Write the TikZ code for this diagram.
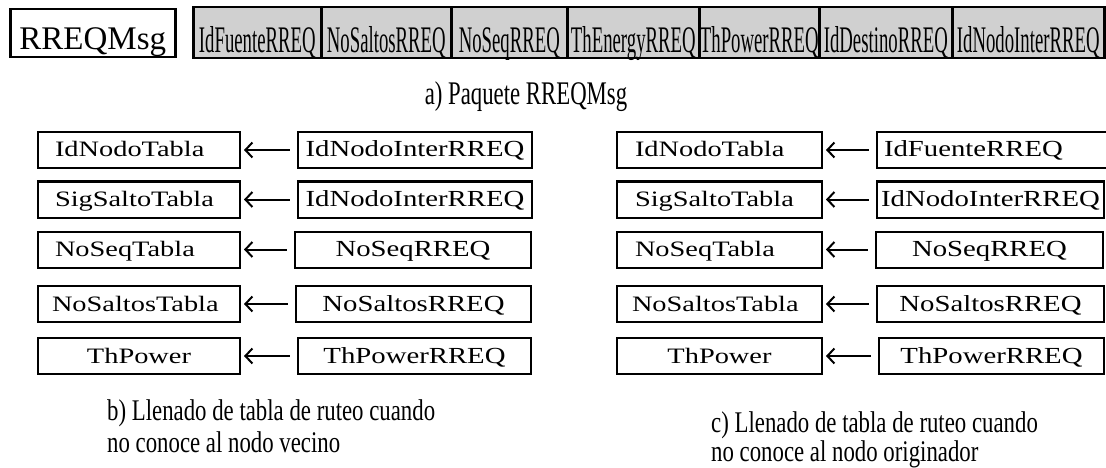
\documentclass[tikz,border=0pt]{standalone}
\usepackage{fontspec}
\setmainfont{Liberation Serif}
\newfontfamily\fieldserif[FakeStretch=0.5]{Liberation Serif}
\newfontfamily\headserif[FakeStretch=0.69]{Liberation Serif}
\newfontfamily\captionserif[FakeStretch=0.76]{Liberation Serif}
\newfontfamily\tablaserif[FakeStretch=1.29]{Liberation Serif}
\newfontfamily\rreqserif[FakeStretch=1.25]{Liberation Serif}
\usetikzlibrary{arrows.meta}
\definecolor{fieldgray}{RGB}{208,208,208}

\tikzset{
  msgbox/.style={draw, line width=2.6pt, inner sep=0pt, anchor=west},
  fieldbox/.style={msgbox, fill=fieldgray, minimum height=51pt,
    text height=41pt, text depth=0pt,
    font=\fieldserif\fontsize{37.5}{40}\selectfont},
  tbox/.style={draw, line width=2pt, inner ysep=0pt, minimum height=36pt,
    text height=18pt, text depth=4pt, anchor=west},
  tabla/.style={tbox, font=\tablaserif\fontsize{22}{25}\selectfont},
  rreq/.style={tbox, inner xsep=0pt, font=\rreqserif\fontsize{23}{26}\selectfont},
  caption/.style={anchor=base west, inner sep=0pt,
    font=\captionserif\fontsize{30}{34}\selectfont},
  copyarrow/.style={<-, line width=2pt, >={Straight Barb[length=7pt,width=15pt]},
    shorten <=3pt, shorten >=7pt},
}

\begin{document}
\begin{tikzpicture}[x=1pt, y=-1pt]
  \useasboundingbox[fill=white] (0,0) rectangle (1106,468);
  \clip (0,0) rectangle (1106,468);

  % message name and its fields
  \node[msgbox, minimum width=165pt, minimum height=48pt,
        text height=34pt, text depth=0pt, font=\fontsize{33}{36}\selectfont]
    (msg) at (9,33) {RREQMsg};
  \node[fieldbox, minimum width=128pt] (f1) at (192,32.5) {IdFuenteRREQ};
  \node[fieldbox, minimum width=130pt] (f2) at (320,32.5) {NoSaltosRREQ};
  \node[fieldbox, minimum width=116pt] (f3) at (450,32.5) {NoSeqRREQ};
  \node[fieldbox, minimum width=132pt] (f4) at (566,32.5) {ThEnergyRREQ};
  \node[fieldbox, minimum width=120pt] (f5) at (698,32.5) {ThPowerRREQ};
  \node[fieldbox, minimum width=133pt] (f6) at (818,32.5) {IdDestinoRREQ};
  \node[fieldbox, minimum width=152pt] (f7) at (951,32.5) {IdNodoInterRREQ};
  \node[anchor=base, inner sep=0pt, font=\headserif\fontsize{33}{36}\selectfont]
    (capa) at (526,105) {a) Paquete RREQMsg};

  % b) neighbour unknown
  \node[tabla, text width=168pt, inner xsep=17pt, align=left] (bt1) at (37,150) {IdNodoTabla};
  \node[tabla, text width=168pt, inner xsep=17pt, align=left] (bt2) at (37,199.5) {SigSaltoTabla};
  \node[tabla, text width=168pt, inner xsep=17pt, align=left] (bt3) at (37,249.5) {NoSeqTabla};
  \node[tabla, text width=174pt, inner xsep=14pt, align=left] (bt4) at (37,304) {NoSaltosTabla};
  \node[tabla, text width=168pt, inner xsep=17pt, align=center] (bt5) at (37,356) {ThPower};
  \node[rreq, minimum width=234pt] (br1) at (297,150) {IdNodoInterRREQ};
  \node[rreq, minimum width=234pt] (br2) at (297,199.5) {IdNodoInterRREQ};
  \node[rreq, minimum width=236pt] (br3) at (294,249.5) {NoSeqRREQ};
  \node[rreq, minimum width=235pt] (br4) at (295,304) {NoSaltosRREQ};
  \node[rreq, minimum width=233pt] (br5) at (297,356) {ThPowerRREQ};
  \foreach \i in {1,...,5} \draw[copyarrow] (bt\i.east) -- (br\i.west);
  \node[caption] (capb1) at (107,420) {b) Llenado de tabla de ruteo cuando};
  \node[caption] (capb2) at (107,452) {no conoce al nodo vecino};

  % c) originator unknown
  \node[tabla, text width=169pt, inner xsep=18pt, align=left] (ct1) at (616,150) {IdNodoTabla};
  \node[tabla, text width=169pt, inner xsep=18pt, align=left] (ct2) at (616,199.5) {SigSaltoTabla};
  \node[tabla, text width=169pt, inner xsep=18pt, align=left] (ct3) at (616,249.5) {NoSeqTabla};
  \node[tabla, text width=175pt, inner xsep=15pt, align=left] (ct4) at (616,304) {NoSaltosTabla};
  \node[tabla, text width=169pt, inner xsep=18pt, align=center] (ct5) at (616,356) {ThPower};
  \node[rreq, text width=226pt, inner xsep=7pt, align=left] (cr1) at (876,150) {IdFuenteRREQ};
  \node[rreq, minimum width=227pt] (cr2) at (876,199.5) {IdNodoInterRREQ};
  \node[rreq, minimum width=227pt] (cr3) at (875,249.5) {NoSeqRREQ};
  \node[rreq, minimum width=227pt] (cr4) at (876,304) {NoSaltosRREQ};
  \node[rreq, minimum width=225pt] (cr5) at (878,356) {ThPowerRREQ};
  \foreach \i in {1,...,5} \draw[copyarrow] (ct\i.east) -- (cr\i.west);
  \node[caption] (capc1) at (711,432) {c) Llenado de tabla de ruteo cuando};
  \node[caption] (capc2) at (711,461) {no conoce al nodo originador};
\end{tikzpicture}
\end{document}
